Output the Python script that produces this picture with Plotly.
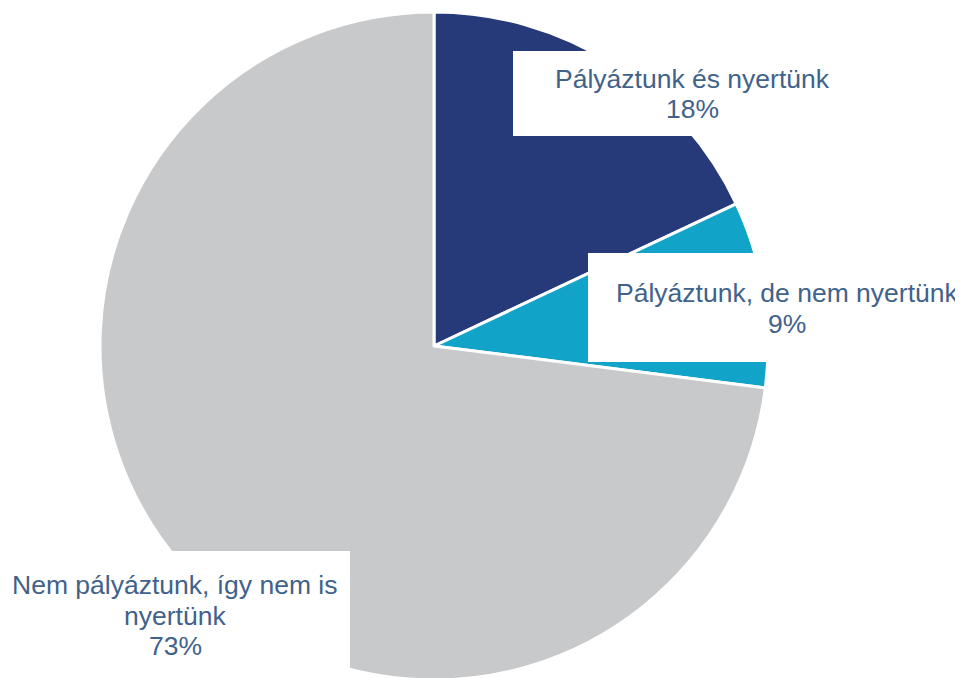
import plotly.graph_objects as go

labels = ["Pályáztunk és nyertünk", "Pályáztunk, de nem nyertünk", "Nem pályáztunk, így nem is nyertünk"]
label_lines = [["Pályáztunk és nyertünk"], ["Pályáztunk, de nem nyertünk"], ["Nem pályáztunk, így nem is", "nyertünk"]]
values = [18, 9, 73]
colors = ["#263979", "#12A4C8", "#C8C9CB"]

W, H = 963, 678
OFF = 8  # page body margin offset in the browser


def px(x):
    return (x - OFF) / W


def py(y):
    return 1 - (y - OFF) / H


# pie centre and radius in window pixels
CX, CY, R = 434, 346, 334
fig = go.Figure(go.Pie(
    labels=labels,
    values=values,
    sort=False,
    direction="clockwise",
    rotation=0,
    marker=dict(colors=colors, line=dict(color="white", width=3)),
    textinfo="none",
    hoverinfo="label+percent",
    domain=dict(x=[px(CX - R), px(CX + R)], y=[py(CY + R), py(CY - R)]),
    showlegend=False,
))

# label boxes in window pixels: (x0, y0, x1, y1), text centre x, first line centre y
boxes = [(513, 51, 873, 136, 692.5, 78.5), (588, 253, 990, 362, 787, 293), (-10, 551, 350, 700, 175, 585)]
LINE = 30.5
total = sum(values)
for lines, v, (x0, y0, x1, y1, tx, ty) in zip(label_lines, values, boxes):
    fig.add_shape(type="rect", xref="paper", yref="paper",
                  x0=px(x0), x1=px(x1), y0=py(y1), y1=py(y0),
                  fillcolor="white", line=dict(width=0), layer="above")
    all_lines = lines + [f"{round(100 * v / total)}%"]
    for i, t in enumerate(all_lines):
        fig.add_annotation(
            x=px(tx), y=py(ty + i * LINE), xref="paper", yref="paper",
            xanchor="center", yanchor="middle",
            text=t, showarrow=False,
            font=dict(family="Liberation Sans, Arial, sans-serif", size=26.5, color="#41628A"),
        )

fig.update_layout(
    width=W, height=H,
    margin=dict(l=0, r=0, t=0, b=0),
    paper_bgcolor="white", plot_bgcolor="white",
)

fig.write_html("out.html")
